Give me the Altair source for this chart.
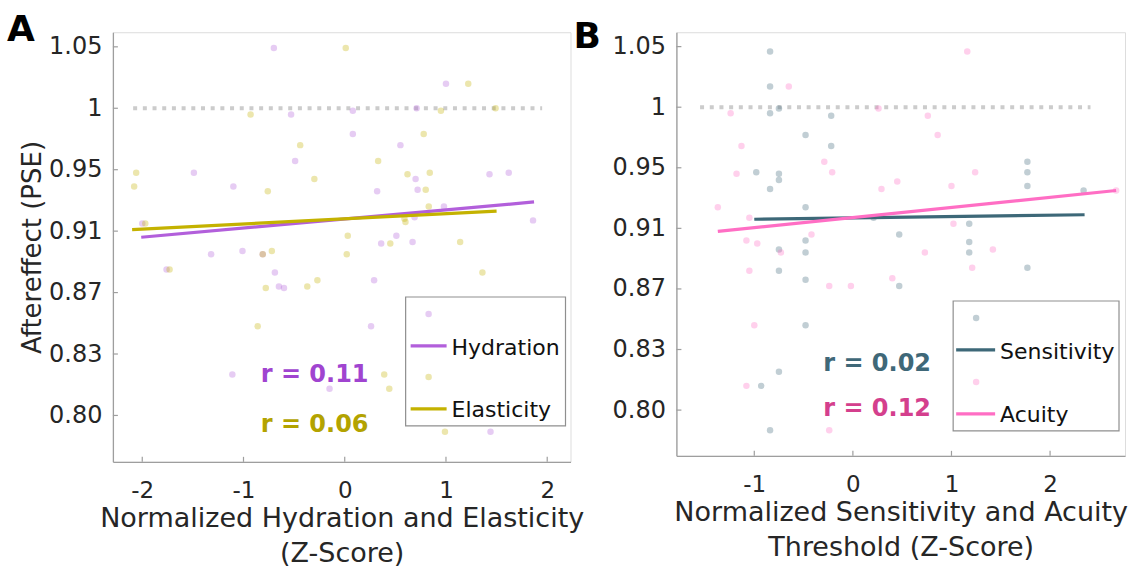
import altair as alt
import pandas as pd

FONT = "DejaVu Sans"
TEXT = "#262626"
AXIS_GREY = "#9e9e9e"

# ---- Panel A: hydration / elasticity (z-scores) vs aftereffect (PSE)
hyd_x = [-0.70, -0.53, -0.49, -1.49, -1.10, -2.00, -1.32, -1.01, -0.81, -1.76, -0.69, -0.65,
         -0.60, -1.11, 1.00, 0.08, 0.71, 0.08, 0.55, 0.70, 1.43, 1.62, 0.32, 0.72, 0.98, 0.69,
         1.86, 0.51, 0.36, 0.67, 0.29, 0.26, -0.15, 1.44]
hyd_y = [1.049, 0.995, 0.957, 0.948, 0.939, 0.915, 0.895, 0.897, 0.895, 0.885, 0.883, 0.874,
         0.873, 0.820, 1.020, 0.998, 1.000, 0.979, 0.970, 0.944, 0.947, 0.948, 0.936, 0.937,
         0.926, 0.919, 0.917, 0.907, 0.902, 0.903, 0.878, 0.848, 0.813, 0.792]
ela_x = [-0.93, -0.44, -2.06, -2.08, -0.76, -1.97, -0.81, -0.72, -1.73, -0.78, -0.86, 0.01,
         1.22, 0.95, 1.49, 0.78, 0.33, -0.30, 0.62, 0.84, 0.80, 0.83, 0.59, 0.60, 0.03, 0.02,
         0.45, 1.14, 1.36, -0.27, -0.37, 0.39, 0.44, 0.99]
ela_y = [0.995, 0.970, 0.948, 0.939, 0.936, 0.915, 0.895, 0.897, 0.885, 0.873, 0.848, 1.049,
         1.020, 0.998, 1.000, 0.979, 0.957, 0.944, 0.947, 0.948, 0.937, 0.926, 0.918, 0.916,
         0.907, 0.895, 0.902, 0.903, 0.883, 0.878, 0.874, 0.820, 0.813, 0.792]

# ---- Panel B: sensitivity / acuity threshold (z-scores) vs aftereffect (PSE)
sen_x = [-0.84, -0.84, -0.84, -0.75, -0.22, -0.48, -0.22, -0.98, -0.75, -0.75, -0.84, -0.48,
         -0.48, -0.75, -0.48, -0.75, -0.48, -0.48, -0.75, -0.93, -0.84, 1.77, 1.77, 1.77,
         2.34, 0.21, 1.18, 0.47, 1.18, 1.18, 1.77, 0.47]
sen_y = [1.046, 1.017, 0.995, 0.999, 0.993, 0.977, 0.968, 0.947, 0.946, 0.942, 0.936, 0.924,
         0.902, 0.896, 0.894, 0.882, 0.876, 0.846, 0.819, 0.812, 0.790, 0.955, 0.947, 0.938,
         0.935, 0.917, 0.913, 0.906, 0.901, 0.894, 0.884, 0.872]
acu_x = [-0.65, -1.24, -1.13, -0.29, -0.21, -1.18, -1.37, -1.05, -1.08, -0.97, -0.42, -0.73,
         -1.05, -0.24, -0.02, -1.00, -1.08, -0.24, 1.16, 0.26, 0.76, 0.86, 1.24, 0.45, 0.29,
         1.00, 2.67, 1.02, 0.73, 1.42, 1.21, 0.40]
acu_y = [1.017, 0.995, 0.968, 0.955, 0.947, 0.946, 0.924, 0.917, 0.902, 0.900, 0.906, 0.894,
         0.882, 0.872, 0.872, 0.846, 0.812, 0.790, 1.046, 0.999, 0.993, 0.977, 0.947, 0.941,
         0.936, 0.938, 0.935, 0.913, 0.894, 0.896, 0.884, 0.877]

# least-squares fit lines (end points)
hyd_fit_x, hyd_fit_y = [-2.01, 1.87], [0.906, 0.929]
ela_fit_x, ela_fit_y = [-2.10, 1.50], [0.911, 0.923]
sen_fit_x, sen_fit_y = [-1.00, 2.35], [0.916, 0.919]
acu_fit_x, acu_fit_y = [-1.37, 2.67], [0.908, 0.935]

# correlation coefficients
r_a = ["r = 0.11", "r = 0.06"]
r_b = ["r = 0.02", "r = 0.12"]

# no-aftereffect reference (PSE = 1)
ref_level = 1.0
ref_a_x = [-2.09, 1.95]
ref_b_x = [-1.55, 2.41]

# axes
y_ticks = [0.80, 0.83, 0.87, 0.91, 0.95, 1.0, 1.05]
# piecewise y scale: tick values are evenly spaced on the axis
y_domain = [0.7773, 0.80, 0.83, 0.87, 0.91, 0.95, 1.0, 1.05, 1.0619]
y_frac = [0.0, 0.108, 0.251, 0.394, 0.537, 0.680, 0.823, 0.966, 1.0]
a_ticks = [-2, -1, 0, 1, 2]
b_ticks = [-1, 0, 1, 2]
a_domain = [-2.29, 2.23]
b_domain = [-1.79, 2.76]

HYD, ELA, SEN, ACU = "Hydration", "Elasticity", "Sensitivity", "Acuity"
line_colors = {HYD: "#b25fdb", ELA: "#c4b200", SEN: "#3d6878", ACU: "#ff6ec4"}
r_colors = {HYD: "#a044d0", ELA: "#b3a300", SEN: "#3f6878", ACU: "#d43f8d"}

X_LABEL_EXPR = "datum.value < 0 ? '-' + format(-datum.value, 'd') : format(datum.value, 'd')"
Y_LABEL_EXPR = "datum.value == 1 ? '1' : format(datum.value, '.2f')"


def panel(names, xs, ys, fits, xdom, xticks, width, height, xtitle, ytitle, ref_x,
          r_texts, letter, letter_pos, r_pos, legend_geo):
    yscale = alt.Scale(domain=y_domain, range=[height * (1 - f) for f in y_frac],
                       nice=False, zero=False)
    xscale = alt.Scale(domain=xdom, nice=False, zero=False)

    x_axis = alt.Axis(values=xticks, ticks=False, tickSize=0, grid=False,
                      domainColor=AXIS_GREY, domainWidth=1.3, labelPadding=18,
                      labelFont=FONT, labelFontSize=23, labelColor=TEXT,
                      labelExpr=X_LABEL_EXPR, labelFlush=False,
                      title=xtitle, titleFont=FONT, titleFontSize=27,
                      titleFontWeight="normal", titleColor=TEXT,
                      titleLineHeight=35, titlePadding=3)
    y_axis = alt.Axis(values=y_ticks, ticks=False, tickSize=0, grid=False,
                      domainColor=AXIS_GREY, domainWidth=1.3, labelPadding=11,
                      labelFont=FONT, labelFontSize=24, labelColor=TEXT,
                      labelExpr=Y_LABEL_EXPR, labelFlush=False,
                      title=ytitle if ytitle else "", titleFont=FONT, titleFontSize=26,
                      titleFontWeight="normal", titleColor=TEXT, titlePadding=3)

    def X(field):
        return alt.X(field, scale=xscale, axis=x_axis)

    def Y(field):
        return alt.Y(field, scale=yscale, axis=y_axis)

    layers = []

    ref = alt.Chart(pd.DataFrame({"x0": [ref_x[0]], "x1": [ref_x[1]], "y": [ref_level]})).mark_rule(
        color="#cccccc", strokeWidth=4, strokeDash=[4, 5.7], strokeCap="butt"
    ).encode(x=X("x0:Q"), x2="x1:Q", y=Y("y:Q"))
    layers.append(ref)

    for n, px, py in zip(names, xs, ys):
        layers.append(alt.Chart(pd.DataFrame({"x": px, "y": py})).mark_circle(
            size=42, opacity=0.32, color=line_colors[n]).encode(x=X("x:Q"), y=Y("y:Q")))

    for n, (fx, fy) in zip(names, fits):
        layers.append(alt.Chart(pd.DataFrame({"x": fx, "y": fy})).mark_line(
            strokeWidth=3.2, color=line_colors[n]).encode(x=X("x:Q"), y=Y("y:Q")))

    # inward tick marks
    layers.append(alt.Chart(pd.DataFrame({"v": y_ticks})).mark_rule(
        color=AXIS_GREY, strokeWidth=1.2).encode(y=Y("v:Q"), x=alt.value(0), x2=alt.value(5)))
    layers.append(alt.Chart(pd.DataFrame({"v": xticks})).mark_rule(
        color=AXIS_GREY, strokeWidth=1.2).encode(
        x=X("v:Q"), y=alt.value(height), y2=alt.value(height - 5)))

    # legend box with a marker row and a line row for each series
    bx0, by0, bx1, by1, dot_x, lx0, lx1, tx, rows = legend_geo
    one = pd.DataFrame({"k": [0]})
    layers.append(alt.Chart(one).mark_rect(
        fill="white", stroke="#8f8f8f", strokeWidth=1.2).encode(
        x=alt.value(bx0), x2=alt.value(bx1), y=alt.value(by0), y2=alt.value(by1)))
    for n, (dy, ly, ty) in zip(names, rows):
        layers.append(alt.Chart(one).mark_circle(
            size=42, opacity=0.32, color=line_colors[n]).encode(
            x=alt.value(dot_x), y=alt.value(dy)))
        layers.append(alt.Chart(one).mark_rule(
            color=line_colors[n], strokeWidth=3.2).encode(
            x=alt.value(lx0), x2=alt.value(lx1), y=alt.value(ly)))
        layers.append(alt.Chart(pd.DataFrame({"t": [n]})).mark_text(
            align="left", baseline="alphabetic", font=FONT, fontSize=22, color="#111111").encode(
            x=alt.value(tx), y=alt.value(ty), text="t:N"))

    # correlation labels
    rx, rys = r_pos
    for n, txt, ry in zip(names, r_texts, rys):
        layers.append(alt.Chart(pd.DataFrame({"t": [txt]})).mark_text(
            align="left", baseline="alphabetic", font=FONT, fontSize=24,
            fontWeight="bold", color=r_colors[n]).encode(
            x=alt.value(rx), y=alt.value(ry), text="t:N"))

    # panel letter
    layers.append(alt.Chart(pd.DataFrame({"t": [letter]})).mark_text(
        align="left", baseline="alphabetic", font=FONT, fontSize=36,
        fontWeight="bold", color="black").encode(
        x=alt.value(letter_pos[0]), y=alt.value(letter_pos[1]), text="t:N"))

    return alt.layer(*layers).properties(width=width, height=height)


panel_a = panel(
    [HYD, ELA], [hyd_x, ela_x], [hyd_y, ela_y],
    [(hyd_fit_x, hyd_fit_y), (ela_fit_x, ela_fit_y)],
    a_domain, a_ticks, 458, 430,
    ["Normalized Hydration and Elasticity", "(Z-Score)"], "Aftereffect (PSE)",
    ref_a_x, r_a, "A", (-106, 9), (148, [350, 400]),
    (293, 265, 453, 394, 316, 298, 334, 339, [(282, 314, 323), (345, 377, 385)]),
)

panel_b = panel(
    [SEN, ACU], [sen_x, acu_x], [sen_y, acu_y],
    [(sen_fit_x, sen_fit_y), (acu_fit_x, acu_fit_y)],
    b_domain, b_ticks, 449, 424,
    ["Normalized Sensitivity and Acuity", "Threshold (Z-Score)"], None,
    ref_b_x, r_b, "B", (-103, 16), (147, [339, 384]),
    (277, 269, 443, 399, 300, 280, 319, 324, [(286, 318, 327), (350, 382, 390)]),
)

chart = alt.hconcat(panel_a, panel_b, spacing=106, bounds="flush").properties(
    padding={"left": 6, "top": 11, "right": 0, "bottom": 0}
).resolve_scale(x="independent", y="independent").configure_view(
    stroke=None).configure(background="white")

chart.save("out.html", embed_options={"renderer": "svg", "actions": False})
